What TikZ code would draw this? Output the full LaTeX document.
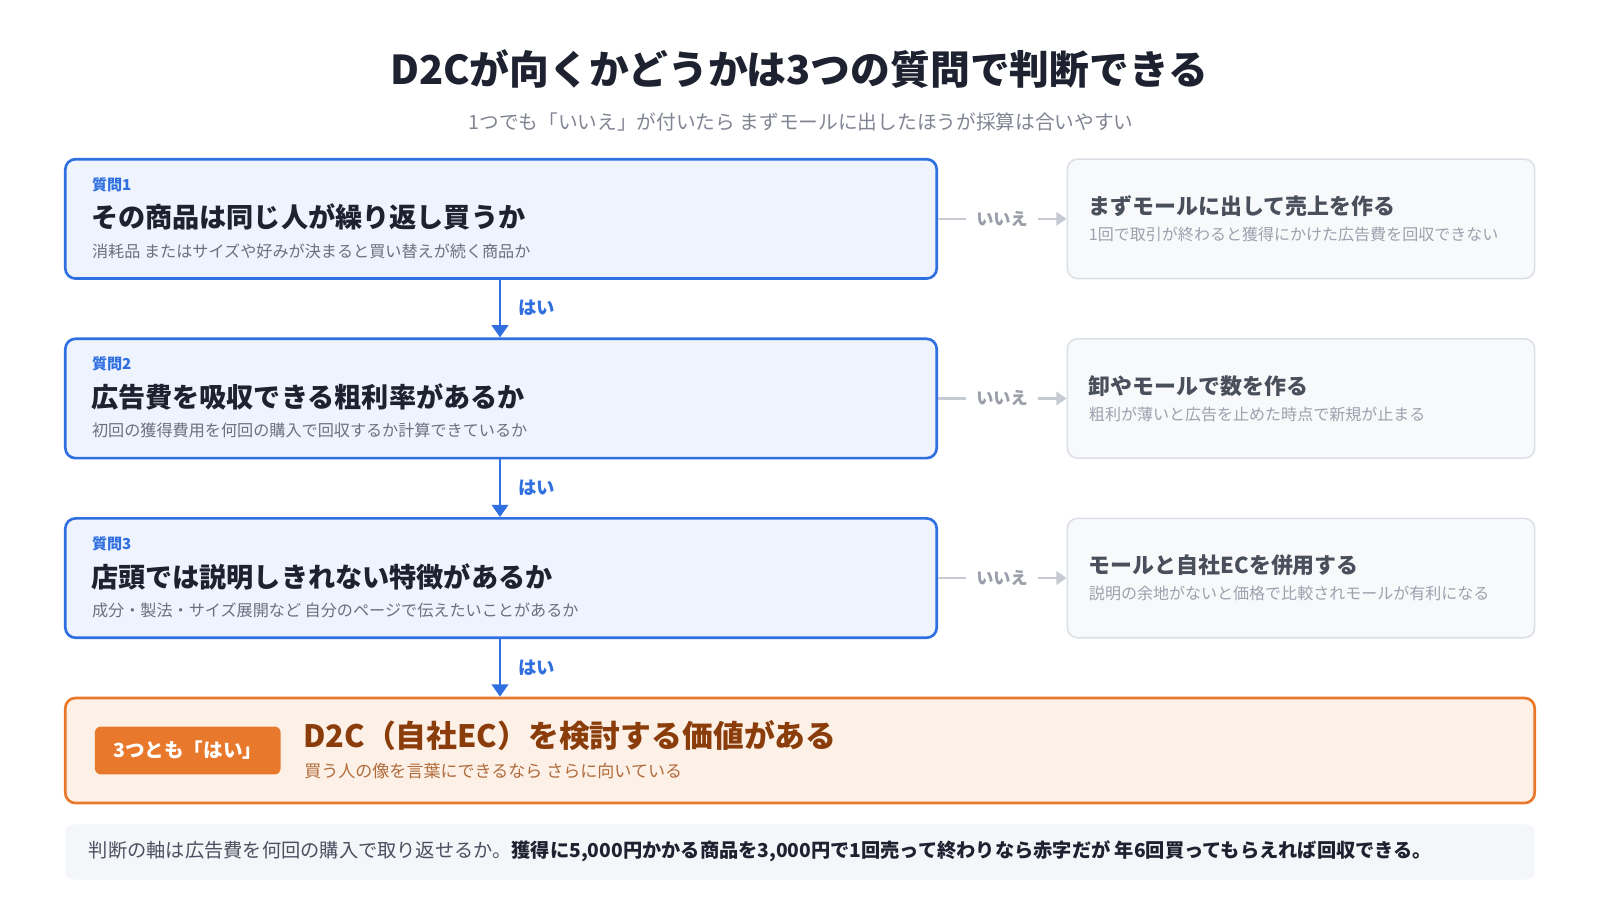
\documentclass[tikz,border=0pt]{standalone}
\usepackage{fontspec}
\setmainfont{Noto Sans CJK JP}
\usetikzlibrary{arrows.meta}
\newcommand\fsz[1]{\fontsize{#1}{#1}\selectfont}
\definecolor{qblue}{HTML}{2F6FE0}
\definecolor{qfill}{HTML}{EEF3FD}
\definecolor{ink}{HTML}{1E2230}
\definecolor{desc}{HTML}{6B7080}
\definecolor{nfill}{HTML}{F8F9FB}
\definecolor{nline}{HTML}{DCDFE5}
\definecolor{ntitle}{HTML}{4A4F5C}
\definecolor{ndesc}{HTML}{9CA1AD}
\definecolor{conn}{HTML}{C6CAD3}
\definecolor{nolab}{HTML}{9A9EA9}
\definecolor{orng}{HTML}{E8792C}
\definecolor{ofill}{HTML}{FDF0E6}
\definecolor{otitle}{HTML}{8A3D0A}
\definecolor{odesc}{HTML}{B06C3C}
\definecolor{ffill}{HTML}{F4F6F9}
\definecolor{ftext}{HTML}{4B5060}
\tikzset{
  qbox/.style={draw=qblue, line width=2.6pt, fill=qfill, rounded corners=10pt, minimum width=854pt, minimum height=117pt, inner sep=0pt},
  nbox/.style={draw=nline, line width=1.5pt, fill=nfill, rounded corners=10pt, minimum width=458pt, minimum height=117pt, inner sep=0pt},
  txt/.style={anchor=west, inner sep=0pt},
  qlab/.style={txt, text=qblue, font=\fsz{14.8}\bfseries},
  qtitle/.style={txt, text=ink, font=\fsz{26.6}\bfseries},
  qdesc/.style={txt, text=desc, font=\fsz{15.8}},
  ntit/.style={txt, text=ntitle, font=\fsz{21.5}\bfseries},
  ndsc/.style={txt, text=ndesc, font=\fsz{15.7}},
  yesarrow/.style={draw=qblue, line width=2.8pt, -{Triangle[width=16pt,length=12pt]}},
  yeslab/.style={txt, text=qblue, font=\fsz{18}\bfseries},
  noline/.style={draw=conn, line width=2.4pt},
  noarrow/.style={draw=conn, line width=2.4pt, -{Triangle[width=13pt,length=10pt]}},
  nolabel/.style={text=nolab, font=\fsz{16.8}\bfseries, inner xsep=10pt, inner ysep=0pt},
}
\begin{document}
\begin{tikzpicture}[x=1pt, y=-1pt]
\useasboundingbox[fill=white] (0,0) rectangle (1568,882);
% title
\node[text=ink, font=\fsz{39}\bfseries, inner sep=0pt] (title) at (783,68) {D2Cが向くかどうかは3つの質問で判断できる};
\node[text=desc!85, font=\fsz{19.3}, inner sep=0pt] (sub) at (785,120) {1つでも「いいえ」が付いたら まずモールに出したほうが採算は合いやすい};
% question boxes
\node[qbox] (q1) at (491,214.5) {};
\node[qbox] (q2) at (491,390.5) {};
\node[qbox] (q3) at (491,566.5) {};
\node[qlab] (q1l) at (90,181) {質問1};
\node[qtitle] (q1t) at (89,213) {その商品は同じ人が繰り返し買うか};
\node[qdesc] (q1d) at (90,246) {消耗品 またはサイズや好みが決まると買い替えが続く商品か};
\node[qlab] (q2l) at (90,357) {質問2};
\node[qtitle] (q2t) at (89,389) {広告費を吸収できる粗利率があるか};
\node[qdesc] (q2d) at (90,422) {初回の獲得費用を何回の購入で回収するか計算できているか};
\node[qlab] (q3l) at (90,533) {質問3};
\node[qtitle] (q3t) at (89,565) {店頭では説明しきれない特徴があるか};
\node[qdesc] (q3d) at (90,598) {成分・製法・サイズ展開など 自分のページで伝えたいことがあるか};
% no boxes
\node[nbox] (n1) at (1275,214.5) {};
\node[nbox] (n2) at (1275,390.5) {};
\node[nbox] (n3) at (1275,566.5) {};
\node[ntit] (n1t) at (1067,202) {まずモールに出して売上を作る};
\node[ndsc] (n1d) at (1067,230) {1回で取引が終わると獲得にかけた広告費を回収できない};
\node[ntit] (n2t) at (1067,378) {卸やモールで数を作る};
\node[ndsc] (n2d) at (1067,406) {粗利が薄いと広告を止めた時点で新規が止まる};
\node[ntit] (n3t) at (1067,554) {モールと自社ECを併用する};
\node[ndsc] (n3d) at (1067,582) {説明の余地がないと価格で比較されモールが有利になる};
% no connectors
\node[nolabel] (no1) at (982,214.5) {いいえ};
\node[nolabel] (no2) at (982,390.5) {いいえ};
\node[nolabel] (no3) at (982,566.5) {いいえ};
\draw[noline] (q1.east) -- (no1.west);
\draw[noarrow] (no1.east) -- (n1.west);
\draw[noline] (q2.east) -- (no2.west);
\draw[noarrow] (no2.east) -- (n2.west);
\draw[noline] (q3.east) -- (no3.west);
\draw[noarrow] (no3.east) -- (n3.west);
% result box
\node[draw=orng, line width=2.6pt, fill=ofill, rounded corners=10pt, minimum width=1440pt, minimum height=103pt, inner sep=0pt] (res) at (784,735.5) {};
\node[fill=orng, rounded corners=6pt, minimum width=182pt, minimum height=47pt, inner sep=0pt, text=white, font=\fsz{19.2}\bfseries] (badge) at (184,735.5) {3つとも「はい」};
\node[txt, text=otitle, font=\fsz{30.2}\bfseries] (rest) at (297,721) {D2C（自社EC）を検討する価値がある};
\node[txt, text=odesc, font=\fsz{16.7}] (resd) at (298,756) {買う人の像を言葉にできるなら さらに向いている};
% yes arrows
\coordinate (y1) at (490,273);
\draw[yesarrow] (q1.south -| y1) -- (q2.north -| y1);
\draw[yesarrow] (q2.south -| y1) -- (q3.north -| y1);
\draw[yesarrow] (q3.south -| y1) -- (res.north -| y1);
\node[yeslab] (yes1) at (508,302) {はい};
\node[yeslab] (yes2) at (508,478) {はい};
\node[yeslab] (yes3) at (508,654) {はい};
% footer
\node[fill=ffill, rounded corners=8pt, minimum width=1440pt, minimum height=54pt, inner sep=0pt] (foot) at (784,835) {};
\node[txt, text=ftext, font=\fsz{18.85}] (foott) at (87,834) {判断の軸は広告費を何回の購入で取り返せるか。\textcolor{ink}{\bfseries 獲得に5,000円かかる商品を3,000円で1回売って終わりなら赤字だが 年6回買ってもらえれば回収できる。}};
\end{tikzpicture}
\end{document}
